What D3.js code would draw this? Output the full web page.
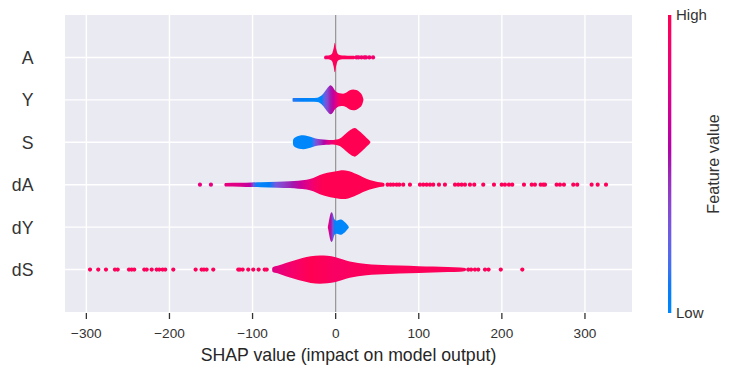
<!DOCTYPE html>
<html lang="en">
<head>
<meta charset="UTF-8">
<title>SHAP summary</title>
<script src="https://cdn.jsdelivr.net/npm/d3@7"></script>
<style>
  body { margin: 0; background: #fff; }
  text { font-family: "Liberation Sans", Arial, sans-serif; }
</style>
</head>
<body>
<script>
// features, top to bottom
var features = ["A", "Y", "S", "dA", "dY", "dS"];
var xTicks = [-300, -200, -100, 0, 100, 200, 300];

// violin outlines: [shap value, relative density]
var bodyA = [[-14, 0], [-13, 0.12], [-9, 0.13], [-6, 0.18], [-4, 0.3], [-2.5, 0.6], [-1, 1.0], [0.5, 0.6], [2, 0.3], [4, 0.18], [8, 0.13], [14, 0.12], [22, 0.12], [24, 0]];
var bodyY = [[-52, 0], [-51.5, 0.13], [-30, 0.13], [-22, 0.15], [-19, 0.22], [-15, 0.42], [-11, 0.72], [-8, 0.92], [-6, 0.98], [-4, 0.9], [-1, 0.65], [2, 0.5], [5, 0.44], [9, 0.42], [13, 0.5], [17, 0.65], [21, 0.7], [25, 0.66], [29, 0.52], [32, 0.3], [33.5, 0]];
var bodyS = [[-51.5, 0], [-51, 0.2], [-48, 0.36], [-44, 0.44], [-39, 0.47], [-34, 0.42], [-27, 0.3], [-21, 0.22], [-15, 0.18], [-8, 0.16], [-3, 0.15], [1, 0.18], [5, 0.25], [9, 0.42], [13, 0.62], [18, 0.85], [23, 0.97], [28, 0.78], [33, 0.52], [37, 0.3], [41, 0.08], [42, 0]];
var bodydA = [[-134, 0], [-133, 0.12], [-115, 0.13], [-101, 0.15], [-90, 0.17], [-70, 0.2], [-55, 0.23], [-45, 0.27], [-35, 0.33], [-27, 0.45], [-19, 0.65], [-10, 0.8], [-3, 0.88], [4, 0.95], [9, 0.97], [15, 0.93], [25, 0.72], [33, 0.5], [41, 0.32], [48, 0.22], [53, 0.16], [58, 0.12], [59, 0]];
var bodydY = [[-9.5, 0], [-9, 0.15], [-8, 0.45], [-6.5, 0.85], [-5, 1.0], [-3.5, 0.9], [-2, 0.6], [-0.5, 0.47], [1.5, 0.44], [3.5, 0.48], [5.5, 0.52], [7.5, 0.5], [9.5, 0.42], [11.5, 0.32], [13.5, 0.2], [15, 0.1], [16, 0]];
var bodydS = [[-76.5, 0], [-76, 0.14], [-70, 0.25], [-60, 0.45], [-50, 0.62], [-40, 0.78], [-30, 0.9], [-19, 0.95], [-10, 0.93], [0, 0.84], [8, 0.7], [17, 0.55], [27, 0.45], [37, 0.38], [50, 0.33], [77, 0.27], [100, 0.23], [117, 0.2], [135, 0.17], [150, 0.14], [156, 0.1], [157, 0]];

// mean feature value along each violin: [shap value, 0 = low .. 1 = high]
var colourA = [[-14, 0.88], [-5, 0.97], [24, 0.97]];
var colourY = [[-52, 0.12], [-40, 0.05], [-20, 0.0], [-17, 0.05], [-14, 0.2], [-10, 0.35], [-6, 0.5], [-3, 0.62], [0, 0.75], [3, 0.88], [6, 0.97], [10, 1], [34, 1]];
var colourS = [[-52, 0], [-29, 0.02], [-26, 0.2], [-22, 0.35], [-18, 0.45], [-14, 0.55], [-10, 0.7], [-5, 0.85], [0, 0.95], [3, 1], [42, 1]];
var colourdA = [[-134, 0.8], [-115, 0.74], [-103, 0.6], [-99, 0.3], [-96, 0.1], [-90, 0.03], [-80, 0.08], [-72, 0.28], [-62, 0.4], [-52, 0.5], [-42, 0.65], [-32, 0.8], [-24, 0.92], [-15, 1], [59, 1]];
var colourdY = [[-9.5, 0.85], [-7.5, 0.7], [-5.5, 0.5], [-3.5, 0.3], [-1.5, 0.1], [0, 0.02], [16, 0]];
var colourdS = [[-76, 0.75], [-65, 0.82], [-55, 0.88], [-40, 0.95], [-30, 1.0], [-15, 0.97], [0, 0.92], [20, 0.95], [60, 0.97], [157, 0.97]];

// outlying points: shap values
var dotsA = [25, 27.5, 31, 34.5, 36.5, 40.5, 45];
var dotsdALow = [-163.3, -150.1];
var dotsdAHigh = [62.5, 66, 69.3, 73.4, 76.5, 81.3, 89.4, 101.4, 105.4, 109.5, 113.5, 117.4, 124.3, 131.5, 143.6, 147.5, 151.6, 155.6, 161.6, 166.8, 177.6, 190.5, 199.8, 203.7, 208.5, 212.5, 226.6, 235.9, 239.8, 246.7, 249.8, 251.9, 265.9, 269.9, 274.7, 285.9, 290.7, 308, 315.3, 325.3];
var dotsdSLow = [-295.6, -285.7, -276.4, -265.6, -262.3, -248.7, -245.5, -242.4, -230.3, -227.4, -221.4, -215.4, -212.3, -208.2, -205.1, -195.4, -168.5, -161.3, -158.5, -155.3, -147.3, -117.2, -115.2, -111.9, -105.2, -99.2, -92.7, -85.4, -83];
var dotsdSHigh = [159.6, 163, 167.6, 171.6, 179.7, 184, 198.7, 224.6];

var violins = [
  { body: bodyA, colour: colourA, dots: [[dotsA, 0.88]] },
  { body: bodyY, colour: colourY, dots: [] },
  { body: bodyS, colour: colourS, dots: [] },
  { body: bodydA, colour: colourdA, dots: [[dotsdALow, 0.8], [dotsdAHigh, 0.97]] },
  { body: bodydY, colour: colourdY, dots: [] },
  { body: bodydS, colour: colourdS, dots: [[dotsdSLow, 0.96], [dotsdSHigh, 0.97]] }
];

var w = 732, h = 374;
var pLeft = 65, pRight = 632, pTop = 15, pBottom = 312;
var halfH = 14.8;

var svg = d3.select("body").append("svg")
  .attr("width", w)
  .attr("height", h);

var x = d3.scaleLinear().domain([-325.7, 356.6]).range([pLeft, pRight]);
var y = d3.scaleLinear().domain([-1, features.length]).range([pBottom, pTop]);
function rowY(i) { return y(features.length - 1 - i); }

// shap red_blue colour map (interpolated in LCh, lightness dips in the middle)
function redBlue(t) {
  var l = t < 0.5 ? 54 - 28 * t : 40 + 28 * (t - 0.5);
  var c = 70 + 20 * t;
  var hue = 266.93 + (380.32 - 266.93) * t;
  return d3.hcl(hue % 360, c, l).formatHex();
}

// plot background and grid
svg.append("rect")
  .attr("x", pLeft).attr("y", pTop)
  .attr("width", pRight - pLeft).attr("height", pBottom - pTop)
  .attr("fill", "#eaeaf2");

svg.selectAll("line.vgrid")
  .data(xTicks)
  .enter().append("line")
  .attr("class", "vgrid")
  .attr("x1", function(d) { return x(d); })
  .attr("x2", function(d) { return x(d); })
  .attr("y1", pTop).attr("y2", pBottom)
  .attr("stroke", "#fff").attr("stroke-width", 1.4);

svg.selectAll("line.hgrid")
  .data(features)
  .enter().append("line")
  .attr("class", "hgrid")
  .attr("x1", pLeft).attr("x2", pRight)
  .attr("y1", function(d, i) { return rowY(i); })
  .attr("y2", function(d, i) { return rowY(i); })
  .attr("stroke", "#fff").attr("stroke-width", 1.4);

svg.append("line")
  .attr("x1", x(0)).attr("x2", x(0))
  .attr("y1", pTop).attr("y2", pBottom)
  .attr("stroke", "#999").attr("stroke-width", 1.3);

// gradients for violins
var defs = svg.append("defs");
violins.forEach(function(v, i) {
  var c = v.colour;
  var x1 = x(c[0][0]), x2 = x(c[c.length - 1][0]);
  var g = defs.append("linearGradient")
    .attr("id", "grad" + i)
    .attr("gradientUnits", "userSpaceOnUse")
    .attr("x1", x1).attr("x2", x2).attr("y1", 0).attr("y2", 0);
  g.selectAll("stop")
    .data(c)
    .enter().append("stop")
    .attr("offset", function(d) { return (x(d[0]) - x1) / (x2 - x1); })
    .attr("stop-color", function(d) { return redBlue(d[1]); });
});

// dots, then violin bodies
violins.forEach(function(v, i) {
  var cy = rowY(i);
  v.dots.forEach(function(set) {
    svg.selectAll(null)
      .data(set[0])
      .enter().append("circle")
      .attr("cx", function(d) { return x(d); })
      .attr("cy", cy)
      .attr("r", 2.1)
      .attr("fill", redBlue(set[1]));
  });

  var area = d3.area()
    .curve(d3.curveMonotoneX)
    .x(function(d) { return x(d[0]); })
    .y0(function(d) { return cy - d[1] * halfH; })
    .y1(function(d) { return cy + d[1] * halfH; });

  svg.append("path")
    .attr("d", area(v.body))
    .attr("fill", "url(#grad" + i + ")");
});

// x axis
var xAxis = svg.append("g").attr("transform", "translate(0," + pBottom + ")");
xAxis.selectAll("line")
  .data(xTicks)
  .enter().append("line")
  .attr("x1", function(d) { return x(d); })
  .attr("x2", function(d) { return x(d); })
  .attr("y1", 1).attr("y2", 7)
  .attr("stroke", "#333").attr("stroke-width", 1.3);
xAxis.selectAll("text")
  .data(xTicks)
  .enter().append("text")
  .attr("x", function(d) { return x(d); })
  .attr("y", 26)
  .attr("text-anchor", "middle")
  .attr("font-size", "13.6px")
  .attr("fill", "#333")
  .text(function(d) { return d3.format("")(d).replace("-", "\u2212"); });

svg.append("text")
  .attr("x", (pLeft + pRight) / 2)
  .attr("y", 360.5)
  .attr("text-anchor", "middle")
  .attr("font-size", "17.7px")
  .attr("fill", "#262626")
  .text("SHAP value (impact on model output)");

// feature names
svg.selectAll("text.feat")
  .data(features)
  .enter().append("text")
  .attr("class", "feat")
  .attr("x", 33.5)
  .attr("y", function(d, i) { return rowY(i); })
  .attr("dy", "0.36em")
  .attr("text-anchor", "end")
  .attr("font-size", "17.7px")
  .attr("fill", "#333")
  .text(function(d) { return d; });

// colour bar
var cbX = 668, cbW = 3.3, cbTop = 15, cbBottom = 313;
var cbGrad = defs.append("linearGradient")
  .attr("id", "cbar")
  .attr("x1", 0).attr("x2", 0).attr("y1", 1).attr("y2", 0);
cbGrad.selectAll("stop")
  .data(d3.range(0, 1.0001, 0.05))
  .enter().append("stop")
  .attr("offset", function(d) { return d; })
  .attr("stop-color", function(d) { return redBlue(d); });

svg.append("rect")
  .attr("x", cbX).attr("y", cbTop)
  .attr("width", cbW).attr("height", cbBottom - cbTop)
  .attr("fill", "url(#cbar)");

svg.append("text")
  .attr("x", 676).attr("y", cbTop).attr("dy", "0.36em")
  .attr("font-size", "15px").attr("fill", "#333")
  .text("High");
svg.append("text")
  .attr("x", 676).attr("y", cbBottom).attr("dy", "0.36em")
  .attr("font-size", "15px").attr("fill", "#333")
  .text("Low");
svg.append("text")
  .attr("transform", "translate(718.5," + ((cbTop + cbBottom) / 2) + ") rotate(-90)")
  .attr("text-anchor", "middle")
  .attr("font-size", "16.3px").attr("fill", "#333")
  .text("Feature value");
</script>
</body>
</html>
